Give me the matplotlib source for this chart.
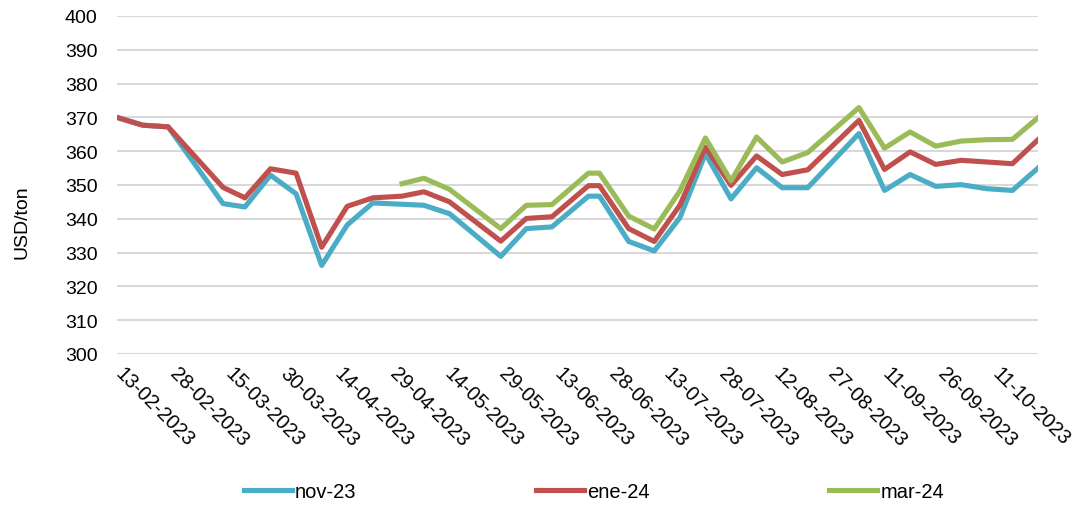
import pandas as pd
import matplotlib.pyplot as plt
import matplotlib.transforms as mtransforms

plt.rcParams['font.family'] = ['Liberation Sans', 'DejaVu Sans']

# Observation dates (dd-mm-yyyy) and futures prices in USD/ton
dates = ['13-02-2023', '20-02-2023', '27-02-2023', '14-03-2023', '20-03-2023',
         '27-03-2023', '03-04-2023', '10-04-2023', '17-04-2023', '24-04-2023',
         '02-05-2023', '08-05-2023', '15-05-2023', '29-05-2023', '05-06-2023',
         '12-06-2023', '22-06-2023', '25-06-2023', '03-07-2023', '10-07-2023',
         '17-07-2023', '24-07-2023', '31-07-2023', '07-08-2023', '14-08-2023',
         '21-08-2023', '04-09-2023', '11-09-2023', '18-09-2023', '25-09-2023',
         '02-10-2023', '09-10-2023', '16-10-2023', '23-10-2023']

nov23 = [370.0, 367.7, 367.2, 344.5, 343.5, 352.9, 347.4, 326.2, 338.2, 344.7,
         344.3, 344.0, 341.5, 328.9, 337.1, 337.6, 346.7, 346.7, 333.3, 330.5,
         340.3, 359.3, 345.9, 355.1, 349.2, 349.2, 365.2, 348.4, 353.1, 349.6,
         350.1, 348.9, 348.4, 355.0]

ene24 = [370.0, 367.7, 367.2, 349.3, 346.2, 354.8, 353.5, 331.6, 343.7, 346.2,
         346.7, 348.0, 345.0, 333.4, 340.1, 340.6, 349.8, 349.8, 337.1, 333.3,
         344.0, 361.2, 349.9, 358.6, 353.1, 354.5, 369.1, 354.6, 359.8, 356.1,
         357.3, 356.8, 356.3, 363.4]

# mar-24 starts on 02-05-2023
mar24 = [None] * 10 + [350.4, 352.0, 348.7, 337.1, 344.0, 344.2, 353.5, 353.5,
                       340.8, 337.0, 348.2, 363.9, 351.2, 364.2, 356.8, 359.6,
                       372.9, 360.9, 365.7, 361.5, 363.0, 363.4, 363.5, 369.9]

tick_dates = pd.date_range('2023-02-13', '2023-10-11', freq='15D')

start = pd.to_datetime(dates[0], format='%d-%m-%Y')
days = (pd.to_datetime(dates, format='%d-%m-%Y') - start).days
tick_days = (tick_dates - start).days

df = pd.DataFrame({'day': days, 'nov-23': nov23, 'ene-24': ene24, 'mar-24': mar24})

fig = plt.figure(figsize=(10.86, 5.10), dpi=100)
ax = fig.add_axes([117 / 1086, 1 - 355 / 510, (1038 - 117) / 1086, (355 - 17) / 510])

ax.plot(df['day'], df['nov-23'], color='#4BACC6', linewidth=3.7, label='nov-23')
ax.plot(df['day'], df['ene-24'], color='#C0504D', linewidth=3.7, label='ene-24')
m = df['mar-24'].notna()
ax.plot(df.loc[m, 'day'], df.loc[m, 'mar-24'].astype(float), color='#9BBB59',
        linewidth=3.7, label='mar-24')

ax.set_xlim(0, df['day'].iloc[-1])
ax.set_ylim(300, 400)
ax.set_yticks(range(300, 401, 10))
ax.grid(axis='y', color='#D9D9D9', linewidth=1.5)
ax.set_axisbelow(True)
for s in ax.spines.values():
    s.set_visible(False)
ax.tick_params(axis='both', length=0, labelsize=14, colors='black')
ax.tick_params(axis='y', pad=14)

ax.set_xticks(tick_days)
ax.set_xticklabels([d.strftime('%d-%m-%Y') for d in tick_dates],
                   rotation=-45, ha='left', va='center', rotation_mode='anchor',
                   fontsize=14.5)
offset = mtransforms.ScaledTranslation(1 / 72, -8 / 72, fig.dpi_scale_trans)
for lab in ax.get_xticklabels():
    lab.set_transform(lab.get_transform() + offset)

fig.text(22 / 1086, 1 - 222 / 510, 'USD/ton', rotation=90, fontsize=14,
         ha='center', va='center')

fig.legend(loc='center', bbox_to_anchor=(594 / 1086, 1 - 493 / 510), ncol=3,
           frameon=False, fontsize=14.5, handlelength=2.4, handletextpad=0.15,
           columnspacing=8.9)

fig.savefig('out.png', dpi=100)
